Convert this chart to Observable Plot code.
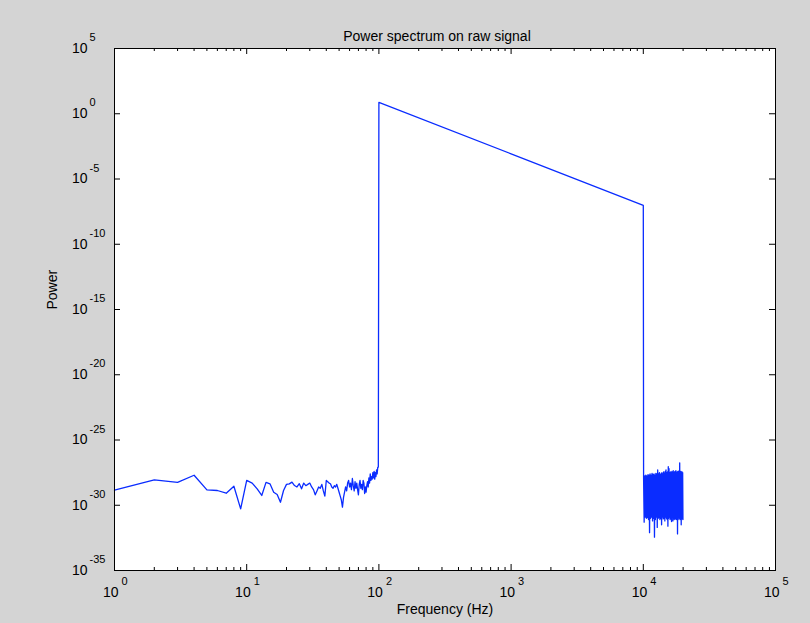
<!DOCTYPE html>
<html>
<head>
<meta charset="utf-8">
<script src="https://cdn.jsdelivr.net/npm/d3@7"></script>
<script src="https://cdn.jsdelivr.net/npm/@observablehq/plot@0.6"></script>
<style>
  html, body { margin: 0; padding: 0; background: #d4d4d4; }
  #chart svg { display: block; }
</style>
</head>
<body>
<div id="chart"></div>
<script>
// ---- Text ----
const title = "Power spectrum on raw signal";
const xLabel = "Frequency (Hz)";
const yLabel = "Power";

// ---- Tick labels (powers of ten) ----
const xTickExponents = [0, 1, 2, 3, 4, 5];
const yTickExponents = [5, 0, -5, -10, -15, -20, -25, -30, -35];

// ---- Data ----
// Low-frequency noise floor, one bin per Hz from 1 to 99 Hz (log10 of power)
const lowFreqLogPower = [
  -28.85, -28.05, -28.25, -27.7, -28.82, -28.87, -29.08, -28.54, -30.28, -28.1,
  -28.3, -28.75, -29.25, -28.25, -28.36, -29.0, -29.18, -29.77, -28.87, -28.4,
  -28.36, -28.23, -28.49, -28.6, -28.35, -28.74, -28.3, -28.5, -28.4, -28.3,
  -28.6, -28.8, -29.2, -28.9, -28.6, -28.7, -28.4, -28.9, -29.3, -28.1,
  -28.2, -28.3, -28.35, -28.6, -28.7, -28.5, -28.6, -28.4, -28.7, -29.0,
  -29.3, -29.6, -30.15, -29.4, -29.0, -28.6, -28.9, -28.3, -28.1, -28.6,
  -28.3, -28.8, -27.95, -28.5, -28.9, -28.2, -28.7, -28.3, -28.8, -29.2,
  -28.4, -28.1, -28.7, -28.4, -28.8, -28.1, -28.3, -29.1, -28.6, -29.0,
  -28.5, -28.2, -28.6, -27.9, -28.3, -27.6, -28.1, -27.8, -28.0, -27.5,
  -27.9, -27.4, -28.0, -27.5, -27.8, -27.3, -27.6, -27.1, -27.08
];
// Power-law section between 100 Hz and 10 kHz
const peakFreqs = [100, 1000, 10000];
const peakPower = [7.4, 8.5e-4, 9.5e-8];
// High-frequency noise block, 10–20 kHz: alternating upper / lower samples (log10 of power)
const bandStartHz = 10050;
const bandStepHz = 100;
const bandTopLogPower = [
  -27.85, -27.75, -27.7, -27.75, -27.65, -27.7, -27.6, -27.7, -27.55, -27.65,
  -27.6, -27.7, -27.55, -27.6, -27.3, -27.6, -27.5, -27.65, -27.55, -27.5,
  -27.6, -27.45, -27.55, -27.4, -27.3, -27.5, -27.45, -27.05, -27.2, -27.5,
  -27.45, -27.55, -27.4, -27.5, -27.35, -27.5, -27.45, -27.4, -27.35, -27.5,
  -27.45, -27.4, -27.5, -27.35, -26.75, -27.45, -27.4, -27.5, -27.45, -27.5
];
const bandBottomLogPower = [
  -31.3, -30.9, -31.0, -30.95, -31.1, -32.1, -31.0, -30.9, -31.2, -31.0,
  -32.45, -31.1, -30.9, -31.7, -31.0, -30.95, -31.1, -31.0, -31.5, -30.9,
  -31.05, -31.0, -31.2, -30.9, -31.0, -31.1, -31.6, -31.0, -30.9, -31.1,
  -31.0, -31.25, -30.95, -31.2, -31.0, -31.1, -30.9, -31.05, -31.1, -31.0,
  -32.2, -31.1, -30.95, -31.0, -31.1, -31.0, -31.5, -31.05, -31.0, -31.1
];

// ---- Build table ----
const spectrum = [];
lowFreqLogPower.forEach((e, i) => spectrum.push({f: i + 1, p: 10 ** e}));
peakFreqs.forEach((f, i) => spectrum.push({f, p: peakPower[i]}));
bandTopLogPower.forEach((e, j) => {
  spectrum.push({f: bandStartHz + 2 * j * bandStepHz, p: 10 ** e});
  spectrum.push({f: bandStartHz + (2 * j + 1) * bandStepHz, p: 10 ** bandBottomLogPower[j]});
});

// ---- Layout ----
const W = 810, H = 623;
const mL = 114, mR = 35, mT = 48, mB = 53;
const fw = W - mL - mR, fh = H - mT - mB;

const xMajor = xTickExponents.map(e => 10 ** e);
const xMinor = xMajor.slice(0, -1).flatMap(v => [2, 3, 4, 5, 6, 7, 8, 9].map(k => k * v));
const yMajor = yTickExponents.map(e => 10 ** e);
const expText = e => String(e);

const chart = Plot.plot({
  width: W,
  height: H,
  marginLeft: mL,
  marginRight: mR,
  marginTop: mT,
  marginBottom: mB,
  style: {background: "#d4d4d4", fontFamily: "'Liberation Sans', Arial, sans-serif", fontSize: "14px", color: "black"},
  x: {type: "log", domain: [1, 1e5], axis: null},
  y: {type: "log", domain: [1e-35, 1e5], axis: null},
  marks: [
    Plot.frame({fill: "white", stroke: null}),
    Plot.line(spectrum, {x: "f", y: "p", stroke: "#0a2cff", strokeWidth: 1.3}),
    // inward ticks, bottom / top
    Plot.tickX(xMajor, {x: d => d, insetTop: fh - 6, stroke: "black"}),
    Plot.tickX(xMajor, {x: d => d, insetBottom: fh - 6, stroke: "black"}),
    Plot.tickX(xMinor, {x: d => d, insetTop: fh - 3, stroke: "black"}),
    Plot.tickX(xMinor, {x: d => d, insetBottom: fh - 3, stroke: "black"}),
    // inward ticks, left / right
    Plot.tickY(yMajor, {y: d => d, insetRight: fw - 6, stroke: "black"}),
    Plot.tickY(yMajor, {y: d => d, insetLeft: fw - 6, stroke: "black"}),
    Plot.frame({stroke: "black", fill: null}),
    // x tick labels
    Plot.text(xTickExponents, {x: e => 10 ** e, frameAnchor: "bottom", text: () => "10", textAnchor: "end", dx: 4, dy: 26, fontSize: 14}),
    Plot.text(xTickExponents, {x: e => 10 ** e, frameAnchor: "bottom", text: expText, textAnchor: "start", dx: 7, dy: 14, fontSize: 11}),
    // y tick labels
    Plot.text(yTickExponents, {y: e => 10 ** e, frameAnchor: "left", text: () => "10", textAnchor: "end", dx: -27, dy: 0, fontSize: 14}),
    Plot.text(yTickExponents, {y: e => 10 ** e, frameAnchor: "left", text: expText, textAnchor: "start", dx: -25, dy: -11, fontSize: 11}),
    // titles
    Plot.text([title], {frameAnchor: "top", dy: -17, dx: -8, fontSize: 14}),
    Plot.text([xLabel], {frameAnchor: "bottom", dy: 43, fontSize: 14}),
    Plot.text([yLabel], {frameAnchor: "left", dx: -62, rotate: -90, fontSize: 14})
  ]
});
document.getElementById("chart").appendChild(chart);
</script>
</body>
</html>
